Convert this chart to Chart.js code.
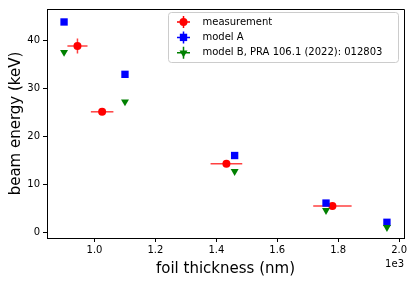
<!DOCTYPE html>
<html>
<head>
<meta charset="utf-8">
<script src="https://cdn.jsdelivr.net/npm/chart.js@4.4.0/dist/chart.umd.min.js"></script>
<style>
  html, body { margin: 0; padding: 0; background: #fff; }
  #wrap { width: 416px; height: 283px; }
</style>
</head>
<body>
<div id="wrap"><canvas id="c"></canvas></div>
<script>
// data (thickness in nm, energy in keV)
const seriesNames = ['measurement', 'model A', 'model B, PRA 106.1 (2022): 012803'];
const measThickness = [944, 1025, 1433, 1781];
const measEnergy = [38.9, 25.2, 14.4, 5.6];
const measThicknessErr = [33, 37, 52, 63];
const measEnergyErr = [1.55, 0, 0, 0];
const modelThickness = [900, 1100, 1460, 1760, 1960];
const modelAEnergy = [43.9, 33.0, 16.1, 6.2, 2.2];
const modelBEnergy = [37.6, 27.3, 12.8, 4.7, 1.15];
const xTicks = [1000, 1200, 1400, 1600, 1800, 2000];
const yTicks = [0, 10, 20, 30, 40];

const FONT = 'DejaVu Sans';
const toPoints = (xs, ys) => xs.map((x, i) => ({ x: x, y: ys[i] }));

const markers = [
    { pointStyle: 'circle', radius: 4, rotation: 0, color: '#ff0000' },
    { pointStyle: 'rect', radius: 5.2, rotation: 0, color: '#0000ff' },
    { pointStyle: 'triangle', radius: 4.6, rotation: 180, color: '#008000' }
];

// error bars for the measurement, drawn under the markers
const errorBars = {
    id: 'errorBars',
    beforeDatasetsDraw(chart) {
        const { ctx, scales: { x, y } } = chart;
        ctx.save();
        ctx.strokeStyle = 'rgba(255,0,0,0.75)';
        ctx.lineWidth = 1.5;
        measThickness.forEach((t, i) => {
            const px = x.getPixelForValue(t), py = y.getPixelForValue(measEnergy[i]);
            ctx.beginPath();
            ctx.moveTo(x.getPixelForValue(t - measThicknessErr[i]), py);
            ctx.lineTo(x.getPixelForValue(t + measThicknessErr[i]), py);
            if (measEnergyErr[i] > 0) {
                ctx.moveTo(px, y.getPixelForValue(measEnergy[i] - measEnergyErr[i]));
                ctx.lineTo(px, y.getPixelForValue(measEnergy[i] + measEnergyErr[i]));
            }
            ctx.stroke();
        });
        ctx.restore();
    }
};

// top/right spines, offset label and the legend box
const frame = {
    id: 'frame',
    afterDraw(chart) {
        const { ctx, chartArea: a } = chart;
        ctx.save();
        ctx.strokeStyle = '#000';
        ctx.lineWidth = 1;
        ctx.beginPath();
        ctx.moveTo(a.left, a.top + 0.5);
        ctx.lineTo(a.right + 0.5, a.top + 0.5);
        ctx.lineTo(a.right + 0.5, a.bottom);
        ctx.stroke();

        ctx.fillStyle = '#000';
        ctx.font = '10px "' + FONT + '"';
        ctx.textAlign = 'right';
        ctx.textBaseline = 'middle';
        ctx.fillText('1e3', a.right, 264);

        // legend
        const bx = 168.5, by = 12.5, bw = 230, bh = 50;
        ctx.beginPath();
        ctx.roundRect(bx, by, bw, bh, 3);
        ctx.fillStyle = 'rgba(255,255,255,0.8)';
        ctx.fill();
        ctx.strokeStyle = '#cccccc';
        ctx.stroke();
        seriesNames.forEach((name, i) => {
            const cy = 22 + i * 15.4, cx = 183.5;
            const m = markers[i];
            ctx.strokeStyle = m.color;
            ctx.lineWidth = 1.5;
            ctx.beginPath();
            ctx.moveTo(cx - 6.5, cy); ctx.lineTo(cx + 6.5, cy);
            ctx.moveTo(cx, cy - 6); ctx.lineTo(cx, cy + 6);
            ctx.stroke();
            ctx.fillStyle = m.color;
            Chart.helpers.drawPoint(ctx, { pointStyle: m.pointStyle, radius: m.radius, rotation: m.rotation, borderWidth: 0 }, cx, cy);
            ctx.fillStyle = '#000';
            ctx.textAlign = 'left';
            ctx.fillText(name, 202.5, cy);
        });
        ctx.restore();
    }
};

const axisStyle = {
    grid: { drawOnChartArea: false, drawTicks: true, tickLength: 4, tickColor: '#000', tickWidth: 1 },
    border: { display: true, color: '#000', width: 1 },
};

new Chart(document.getElementById('c'), {
    type: 'scatter',
    data: {
        datasets: [
            { label: seriesNames[0], data: toPoints(measThickness, measEnergy), order: 3 },
            { label: seriesNames[1], data: toPoints(modelThickness, modelAEnergy), order: 2 },
            { label: seriesNames[2], data: toPoints(modelThickness, modelBEnergy), order: 1 }
        ].map((ds, i) => Object.assign(ds, {
            pointStyle: markers[i].pointStyle,
            pointRadius: markers[i].radius,
            pointRotation: markers[i].rotation,
            pointBackgroundColor: markers[i].color,
            pointBorderWidth: 0,
            backgroundColor: markers[i].color,
            borderColor: markers[i].color
        }))
    },
    options: {
        responsive: true,
        maintainAspectRatio: false,
        animation: false,
        devicePixelRatio: 1,
        layout: { padding: { top: 7, right: 12, left: 0, bottom: 0 } },
        plugins: { legend: { display: false }, tooltip: { enabled: false } },
        scales: {
            x: Object.assign({}, axisStyle, {
                type: 'linear', min: 844, max: 2016,
                afterBuildTicks: s => { s.ticks = xTicks.map(v => ({ value: v })); },
                afterFit: s => { s.height = 45; },
                ticks: { callback: v => (v / 1000).toFixed(1), color: '#000', font: { family: FONT, size: 10 }, padding: 2, maxRotation: 0, autoSkip: false },
                title: { display: true, text: 'foil thickness (nm)', color: '#000', font: { family: FONT, size: 15 }, padding: { top: 2, bottom: 5 } }
            }),
            y: Object.assign({}, axisStyle, {
                type: 'linear', min: -1.07, max: 46.6,
                afterBuildTicks: s => { s.ticks = yTicks.map(v => ({ value: v })); },
                afterFit: s => { s.width = 47; },
                ticks: { color: '#000', font: { family: FONT, size: 10 }, padding: 3, autoSkip: false },
                title: { display: true, text: 'beam energy (keV)', color: '#000', font: { family: FONT, size: 15 }, padding: { top: 7, bottom: 2 } }
            })
        }
    },
    plugins: [errorBars, frame]
});
</script>
</body>
</html>
